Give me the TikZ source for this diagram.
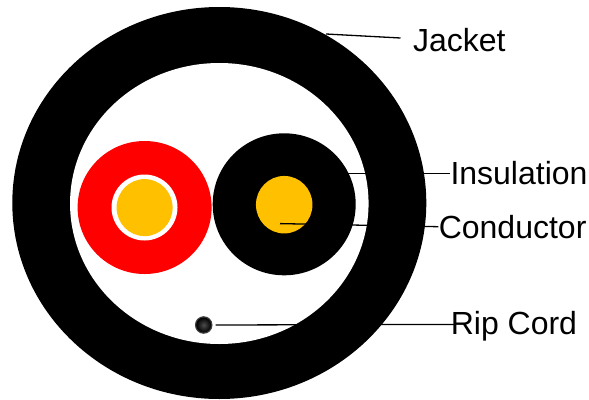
\documentclass[tikz,border=0pt]{standalone}
\usepackage{fontspec}
\setmainfont{Liberation Sans}
\usetikzlibrary{shapes.geometric}
\definecolor{coreyellow}{HTML}{FFC000}
\tikzset{
  disc/.style={ellipse,inner sep=0pt,outer sep=0pt,minimum width=#1},
  leader/.style={draw=black,line width=1.3pt},
  callout/.style={anchor=base west,inner sep=0pt,outer sep=0pt,font=\fontsize{32}{32}\selectfont,text=black}
}
\begin{document}
\begin{tikzpicture}[x=1pt,y=-1pt]
\useasboundingbox (0,0) rectangle (589,399);
\node[disc=414pt,minimum height=392pt,fill=black] (outer) at (219.3,203) {};
\node[disc=298.5pt,minimum height=281pt,fill=white] (inner) at (219.3,203.5) {};
\node[disc=134pt,minimum height=133pt,fill=red] (redwire) at (144.6,207.5) {};
\node[disc=66pt,minimum height=66pt,fill=white] (ring) at (144.5,207.5) {};
\node[disc=56pt,minimum height=57pt,fill=coreyellow] (redcore) at (144.6,207.6) {};
\node[disc=143pt,minimum height=142pt,fill=black] (blackwire) at (284.2,204.3) {};
\node[disc=56.5pt,minimum height=57.5pt,fill=coreyellow] (blackcore) at (284.2,204.7) {};
\node[disc=17.6pt,minimum height=17.6pt,fill=black!75] (ripedge) at (203.7,325) {};
\node[disc=15pt,minimum height=15pt,inner color=black!70,outer color=black] (rip) at (203.7,325) {};
\node[callout] (jacket) at (413,51.7) {Jacket};
\node[callout] (insulation) at (450.5,184) {Insulation};
\node[callout] (conductor) at (438.8,238.3) {Conductor};
\node[callout] (ripcord) at (450.8,334) {Rip Cord};
\coordinate (jacketstart) at (326,34);
\coordinate (insstart) at (348,173.4);
\coordinate (condstart) at (280,223.6);
\draw[leader] (jacketstart) -- ([shift={(-12.5,-13.7)}]jacket.base west);
\draw[leader] (insstart) -- ([shift={(-1,-10.6)}]insulation.base west);
\draw[leader] (condstart) -- ([shift={(-0.5,-11.6)}]conductor.base west);
\draw[leader] ([xshift=3pt]ripedge.east) -- ([shift={(4,-9.6)}]ripcord.base west);
\end{tikzpicture}
\end{document}
